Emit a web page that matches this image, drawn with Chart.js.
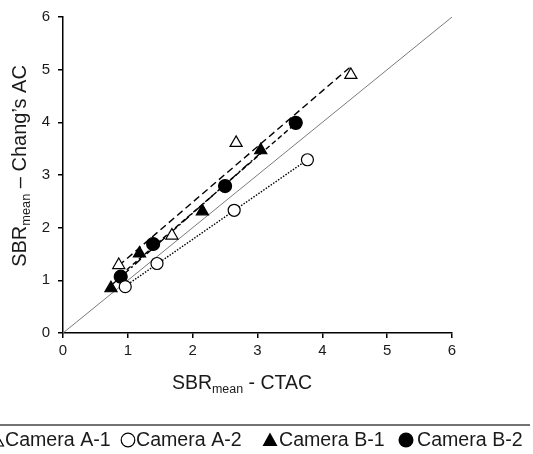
<!DOCTYPE html>
<html>
<head>
<meta charset="utf-8">
<script src="https://cdn.jsdelivr.net/npm/chart.js@4.4.1/dist/chart.umd.min.js"></script>
<style>
  html, body { margin: 0; padding: 0; background: #fff; }
  canvas { display: block; }
</style>
</head>
<body>
<canvas id="myChart" width="533" height="454"></canvas>
<script>
// Series labels
const seriesLabels = ['Camera A-1', 'Camera A-2', 'Camera B-1', 'Camera B-2'];

// Points (x = SBRmean CTAC, y = SBRmean Chang's AC)
const cameraA1 = [{x: 0.86, y: 1.29}, {x: 1.68, y: 1.85}, {x: 2.67, y: 3.61}, {x: 4.44, y: 4.90}];
const cameraA2 = [{x: 0.96, y: 0.88}, {x: 1.45, y: 1.32}, {x: 2.64, y: 2.33}, {x: 3.77, y: 3.29}];
const cameraB1 = [{x: 0.74, y: 0.85}, {x: 1.18, y: 1.51}, {x: 2.15, y: 2.31}, {x: 3.05, y: 3.47}];
const cameraB2 = [{x: 0.89, y: 1.07}, {x: 1.39, y: 1.69}, {x: 2.50, y: 2.79}, {x: 3.59, y: 3.99}];

// Trend line end points
const fitA1 = [{x: 0.86, y: 1.28}, {x: 4.44, y: 5.06}];
const fitA2 = [{x: 0.96, y: 0.89}, {x: 3.77, y: 3.29}];
const fitB1 = [{x: 0.74, y: 0.90}, {x: 3.05, y: 3.42}];
const fitB2 = [{x: 0.89, y: 1.10}, {x: 3.59, y: 3.98}];

// Line of identity
const identityLine = [{x: 0, y: 0}, {x: 6, y: 6}];

// Axis ticks
const axisMin = 0;
const axisMax = 6;
const tickStep = 1;

const FONT = '"Liberation Sans", Arial, sans-serif';

// Draw "SBR" + subscript "mean" + rest, starting at (0,0) on the baseline
function drawSubText(ctx, main, sub, rest, size) {
    const subSize = size * 0.64;
    ctx.font = size + 'px ' + FONT;
    const w1 = ctx.measureText(main).width;
    ctx.font = subSize + 'px ' + FONT;
    const w2 = ctx.measureText(sub).width;
    ctx.font = size + 'px ' + FONT;
    const w3 = ctx.measureText(rest).width;
    return {
        width: w1 + w2 + w3,
        draw: function (x, y) {
            ctx.font = size + 'px ' + FONT;
            ctx.fillText(main, x, y);
            ctx.font = subSize + 'px ' + FONT;
            ctx.fillText(sub, x + w1, y + size * 0.22);
            ctx.font = size + 'px ' + FONT;
            ctx.fillText(rest, x + w1 + w2, y);
        }
    };
}

// Axis titles with subscripts, and the boxed legend under the chart
const extrasPlugin = {
    id: 'extras',
    afterDraw(chart) {
        const ctx = chart.ctx;
        ctx.save();
        ctx.fillStyle = '#1a1a1a';
        ctx.textBaseline = 'alphabetic';
        ctx.textAlign = 'left';

        // x title
        const xt = drawSubText(ctx, 'SBR', 'mean', ' - CTAC', 19.5);
        xt.draw(242 - xt.width / 2, 389);

        // y title
        const yt = drawSubText(ctx, 'SBR', 'mean', ' \u2013 Chang\u2019s AC', 20);
        ctx.save();
        ctx.translate(26, 166);
        ctx.rotate(-Math.PI / 2);
        yt.draw(-yt.width / 2, 0);
        ctx.restore();

        // legend separator
        ctx.strokeStyle = '#444';
        ctx.lineWidth = 1.5;
        ctx.beginPath();
        ctx.moveTo(0, 425);
        ctx.lineTo(530, 425);
        ctx.stroke();

        // legend items
        const markerX = [-4, 128, 270, 406];
        const textX = [5, 136, 279, 417];
        const my = 440;
        ctx.lineWidth = 1.2;
        ctx.strokeStyle = '#000';
        seriesLabels.forEach((label, i) => {
            const filled = i >= 2;
            const tri = i === 0 || i === 2;
            ctx.beginPath();
            if (tri) {
                ctx.moveTo(markerX[i], my - 7.5);
                ctx.lineTo(markerX[i] + 7.5, my + 6);
                ctx.lineTo(markerX[i] - 7.5, my + 6);
                ctx.closePath();
            } else {
                ctx.arc(markerX[i], my, filled ? 7.5 : 6.8, 0, Math.PI * 2);
            }
            if (filled) {
                ctx.fillStyle = '#000';
                ctx.fill();
            } else {
                ctx.stroke();
            }
            ctx.fillStyle = '#1a1a1a';
            ctx.font = '19.6px ' + FONT;
            ctx.fillText(label, textX[i], 446);
        });
        ctx.restore();
    }
};

function pointSet(label, data, style, filled, radius) {
    return {
        type: 'scatter',
        label: label,
        data: data,
        pointStyle: style,
        pointRadius: radius,
        pointBorderWidth: 1.2,
        pointBackgroundColor: filled ? '#000' : '#fff',
        pointBorderColor: '#000',
        showLine: false
    };
}

function lineSet(data, dash, color, width) {
    return {
        type: 'scatter',
        data: data,
        showLine: true,
        pointRadius: 0,
        borderColor: color,
        borderWidth: width,
        borderDash: dash,
        fill: false
    };
}

const ctx = document.getElementById('myChart').getContext('2d');
new Chart(ctx, {
    type: 'scatter',
    data: {
        datasets: [
            pointSet(seriesLabels[0], cameraA1, 'triangle', false, 7),
            pointSet(seriesLabels[1], cameraA2, 'circle', false, 6),
            pointSet(seriesLabels[2], cameraB1, 'triangle', true, 7),
            pointSet(seriesLabels[3], cameraB2, 'circle', true, 6.5),
            lineSet(fitA1, [7, 4], '#000', 1.4),
            lineSet(fitA2, [1.5, 1.5], '#000', 1.4),
            lineSet(fitB1, [8, 3, 2, 3], '#000', 1.4),
            lineSet(fitB2, [5, 3], '#000', 1.4),
            lineSet(identityLine, [], '#7a7a7a', 1)
        ]
    },
    options: {
        responsive: false,
        animation: false,
        layout: { padding: { left: 0, top: 17, right: 81, bottom: 91 } },
        plugins: {
            legend: { display: false },
            tooltip: { enabled: false }
        },
        scales: {
            x: {
                type: 'linear',
                min: axisMin,
                max: axisMax,
                ticks: { stepSize: tickStep, padding: 4, color: '#1a1a1a', font: { family: FONT, size: 15 } },
                grid: { drawOnChartArea: false, drawTicks: true, tickLength: 5, color: '#000', lineWidth: 1.5 },
                border: { color: '#000', width: 1.5 },
                afterFit: scale => { scale.height = 30; }
            },
            y: {
                type: 'linear',
                min: axisMin,
                max: axisMax,
                ticks: { stepSize: tickStep, padding: 8, color: '#1a1a1a', font: { family: FONT, size: 15 } },
                grid: { drawOnChartArea: false, drawTicks: true, tickLength: 5, color: '#000', lineWidth: 1.5 },
                border: { color: '#000', width: 1.5 },
                afterFit: scale => { scale.width = 63; }
            }
        }
    },
    plugins: [extrasPlugin]
});
</script>
</body>
</html>
